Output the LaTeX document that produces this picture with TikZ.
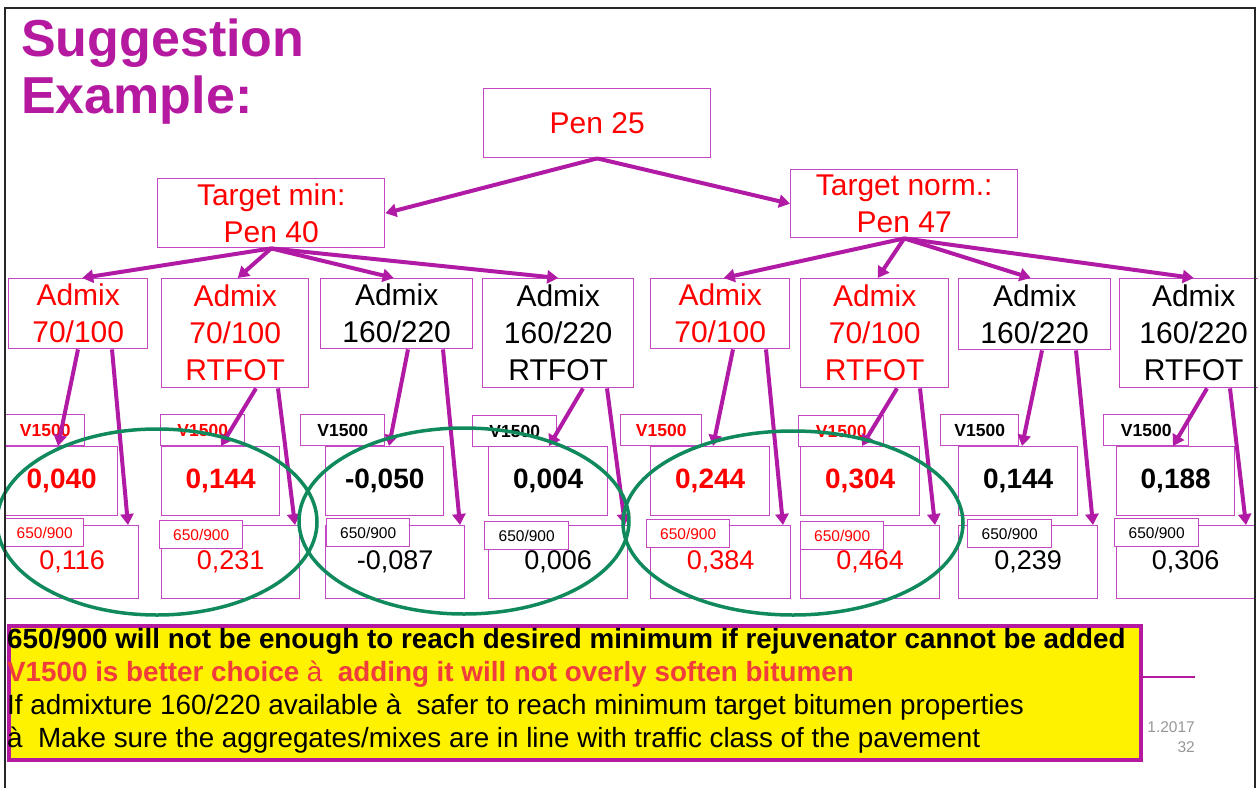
\documentclass[tikz,border=0pt]{standalone}
\usepackage{fontspec}
\setmainfont{Liberation Sans}
\usetikzlibrary{arrows.meta,calc}
\definecolor{titlemag}{RGB}{180,25,160}
\definecolor{arrmag}{RGB}{176,26,164}
\definecolor{boxmag}{RGB}{196,72,196}
\definecolor{grn}{RGB}{16,138,92}
\definecolor{softred}{RGB}{240,60,60}
\definecolor{gry}{RGB}{150,150,150}
\begin{document}
\begin{tikzpicture}[x=1pt,y=-1pt,
  bx/.style={draw=boxmag, line width=1.4pt, fill=white, inner sep=0pt, align=center, anchor=north west},
  big/.style={bx, font=\fontsize{30}{37}\selectfont},
  vlab/.style={bx, font=\fontsize{17.5}{20}\selectfont\bfseries, minimum height=31pt},
  bval/.style={bx, font=\fontsize{28}{32}\selectfont\bfseries, minimum height=69pt},
  cval/.style={bx, font=\fontsize{27}{32}\selectfont, minimum height=73pt},
  llab/.style={bx, font=\fontsize{15.5}{18}\selectfont, minimum height=28pt},
  arr/.style={draw=arrmag, line width=4pt, -{Triangle[length=11pt,width=13pt]}},
  ell/.style={draw=grn, line width=3.5pt},
  title/.style={anchor=base west, inner sep=0pt, text=titlemag, font=\fontsize{52}{57}\selectfont\bfseries},
  note/.style={anchor=base west, inner sep=0pt, font=\fontsize{27.8}{33}\selectfont},
  foot/.style={anchor=base east, inner sep=0pt, text=gry, font=\fontsize{15.5}{18}\selectfont}
]
\useasboundingbox (0,0) rectangle (1258,787);

% title
\node[title] (t1) at (21,56) {Suggestion};
\node[title] (t2) at (21,113) {Example:};

% top levels
\node[big, text=red, minimum width=227pt, minimum height=69pt] (P25) at (483,88) {Pen 25};
\node[big, text=red, minimum width=227pt, minimum height=69pt] (TMin) at (157,178) {Target min:\\Pen 40};
\node[big, text=red, minimum width=227pt, minimum height=68pt] (TNorm) at (790,169) {Target norm.:\\Pen 47};

% admix boxes
\node[big, text=red, minimum width=139pt, minimum height=70pt] (A1) at (8,278) {Admix\\70/100};
\node[big, text=red, minimum width=147pt, minimum height=109pt] (A2) at (161,278) {Admix\\70/100\\RTFOT};
\node[big, text=black, minimum width=152pt, minimum height=70pt] (A3) at (320,278) {Admix\\160/220};
\node[big, text=black, minimum width=151pt, minimum height=109pt] (A4) at (482,278) {Admix\\160/220\\RTFOT};
\node[big, text=red, minimum width=139pt, minimum height=70pt] (A5) at (650,278) {Admix\\70/100};
\node[big, text=red, minimum width=148pt, minimum height=109pt] (A6) at (800,278) {Admix\\70/100\\RTFOT};
\node[big, text=black, minimum width=152pt, minimum height=71pt] (A7) at (958,278) {Admix\\160/220};
\node[big, text=black, minimum width=148pt, minimum height=109pt] (A8) at (1119,278) {Admix\\160/220\\RTFOT};

% V1500 labels
\node[vlab, text=red, minimum width=79pt] (V1) at (5,414) {V1500};
\node[vlab, text=red, minimum width=84pt] (V2) at (160,414) {V1500};
\node[vlab, text=black, minimum width=84pt] (V3) at (300,414) {V1500};
\node[vlab, text=black, minimum width=84pt] (V4) at (472,415) {V1500};
\node[vlab, text=red, minimum width=81pt] (V5) at (620,414) {V1500};
\node[vlab, text=red, minimum width=85pt] (V6) at (798,415) {V1500};
\node[vlab, text=black, minimum width=78pt] (V7) at (940,414) {V1500};
\node[vlab, text=black, minimum width=85pt] (V8) at (1103,414) {V1500};

% bold values
\node[bval, text=red, minimum width=112pt] (B1) at (5,446) {0,040};
\node[bval, text=red, minimum width=118pt] (B2) at (161,446) {0,144};
\node[bval, text=black, minimum width=118pt] (B3) at (325,446) {-0,050};
\node[bval, text=black, minimum width=119pt] (B4) at (488,446) {0,004};
\node[bval, text=red, minimum width=119pt] (B5) at (650,446) {0,244};
\node[bval, text=red, minimum width=119pt] (B6) at (800,446) {0,304};
\node[bval, text=black, minimum width=119pt] (B7) at (958,446) {0,144};
\node[bval, text=black, minimum width=118pt] (B8) at (1116,446) {0,188};

% 650/900 values
\node[cval, text=red, minimum width=133pt] (C1) at (5,525) {0,116};
\node[cval, text=red, minimum width=138pt] (C2) at (161,525) {0,231};
\node[cval, text=black, minimum width=139pt] (C3) at (325,525) {-0,087};
\node[cval, text=black, minimum width=139pt] (C4) at (488,525) {0,006};
\node[cval, text=red, minimum width=140pt] (C5) at (650,525) {0,384};
\node[cval, text=red, minimum width=139pt] (C6) at (800,525) {0,464};
\node[cval, text=black, minimum width=139pt] (C7) at (958,525) {0,239};
\node[cval, text=black, minimum width=138pt] (C8) at (1116,525) {0,306};

% 650/900 labels
\node[llab, text=red, minimum width=78pt] (L1) at (5,518) {650/900};
\node[llab, text=red, minimum width=83pt] (L2) at (159,520) {650/900};
\node[llab, text=black, minimum width=83pt] (L3) at (326,518) {650/900};
\node[llab, text=black, minimum width=84pt] (L4) at (484,521) {650/900};
\node[llab, text=red, minimum width=83pt] (L5) at (646,519) {650/900};
\node[llab, text=red, minimum width=83pt] (L6) at (800,521) {650/900};
\node[llab, text=black, minimum width=84pt] (L7) at (967,519) {650/900};
\node[llab, text=black, minimum width=84pt] (L8) at (1114,518) {650/900};

% arrows top
\draw[arr] (P25.south) -- (TMin.east);
\draw[arr] (P25.south) -- (TNorm.west);
\draw[arr] (TMin.south) -- ([xshift=4pt]A1.north);
\draw[arr] (TMin.south) -- ([xshift=2.5pt]A2.north);
\draw[arr] (TMin.south) -- ([xshift=-3pt]A3.north);
\draw[arr] (TMin.south) -- (A4.north);
\draw[arr] (TNorm.south) -- ([xshift=3.5pt]A5.north);
\draw[arr] (TNorm.south) -- ([xshift=3pt]A6.north);
\draw[arr] (TNorm.south) -- ([xshift=-4pt]A7.north);
\draw[arr] (TNorm.south) -- (A8.north);

% arrows down
\draw[arr] ($(A1.south west)+(70,0)$) -- ($(B1.north west)+(53,0)$);
\draw[arr] ($(A1.south west)+(104,0)$) -- ($(C1.north west)+(123,0)$);
\draw[arr] ($(A2.south west)+(95,0)$) -- ($(B2.north west)+(60,0)$);
\draw[arr] ($(A2.south west)+(117,0)$) -- ($(C2.north west)+(134,0)$);
\draw[arr] ($(A3.south west)+(88,0)$) -- ($(B3.north west)+(64,0)$);
\draw[arr] ($(A3.south west)+(123,0)$) -- ($(C3.north west)+(135,0)$);
\draw[arr] ($(A4.south west)+(101,0)$) -- ($(B4.north west)+(61,0)$);
\draw[arr] ($(A4.south west)+(125,0)$) -- ($(C4.north west)+(137,0)$);
\draw[arr] ($(A5.south west)+(83,0)$) -- ($(B5.north west)+(63,0)$);
\draw[arr] ($(A5.south west)+(116,0)$) -- ($(C5.north west)+(133,0)$);
\draw[arr] ($(A6.south west)+(97,0)$) -- ($(B6.north west)+(62,0)$);
\draw[arr] ($(A6.south west)+(120,0)$) -- ($(C6.north west)+(135,0)$);
\draw[arr] ($(A7.south west)+(84,0)$) -- ($(B7.north west)+(64,0)$);
\draw[arr] ($(A7.south west)+(118,0)$) -- ($(C7.north west)+(135,0)$);
\draw[arr] ($(A8.south west)+(88,0)$) -- ($(B8.north west)+(57,0)$);
\draw[arr] ($(A8.south west)+(111,0)$) -- ($(C8.north west)+(130,0)$);

% green ellipses
\draw[ell] (157,522) ellipse [x radius=160pt, y radius=93pt];
\draw[ell] (464,521) ellipse [x radius=165pt, y radius=93pt];
\draw[ell] (793,523) ellipse [x radius=170pt, y radius=92pt];

% note box
\node[draw=titlemag, line width=4pt, fill=yellow, anchor=north west, inner sep=0pt,
      minimum width=1132pt, minimum height=134pt] (NB) at (7,624) {};
\node[note, font=\fontsize{27.8}{33}\selectfont\bfseries] (n1) at (7,648) {650/900 will not be enough to reach desired minimum if rejuvenator cannot be added};
\node[note, text=softred, font=\fontsize{27.8}{33}\selectfont\bfseries] (n2) at (7,681) {V1500 is better choice {\mdseries à}~ adding it will not overly soften bitumen};
\node[note] (n3) at (7,714) {If admixture 160/220 available à~ safer to reach minimum target bitumen properties};
\node[note] (n4) at (7,747) {à~ Make sure the aggregates/mixes are in line with traffic class of the pavement};

\coordinate (lend) at (1195,677);
\draw[titlemag, line width=2pt] (NB.east |- lend) -- (lend);
\node[foot] (f1) at (1195,732) {1.2017};
\node[foot] (f2) at (1195,752) {32};

% frame
\draw[line width=2pt, black!85] (5,800) -- (5,8) -- (1255,8) -- (1255,800);
\end{tikzpicture}
\end{document}
